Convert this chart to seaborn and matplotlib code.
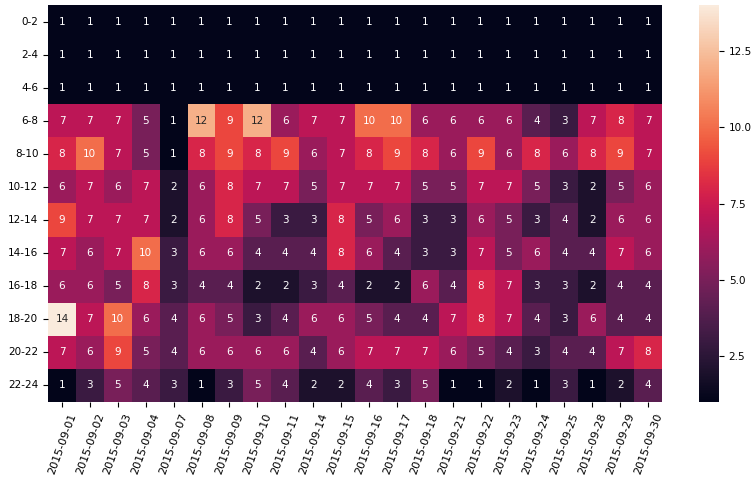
import numpy as np
import pandas as pd
import matplotlib
matplotlib.use("Agg")
import matplotlib.pyplot as plt
import seaborn as sns

dates = ["2015-09-01", "2015-09-02", "2015-09-03", "2015-09-04", "2015-09-07",
         "2015-09-08", "2015-09-09", "2015-09-10", "2015-09-11", "2015-09-14",
         "2015-09-15", "2015-09-16", "2015-09-17", "2015-09-18", "2015-09-21",
         "2015-09-22", "2015-09-23", "2015-09-24", "2015-09-25", "2015-09-28",
         "2015-09-29", "2015-09-30"]
hours = ["0-2", "2-4", "4-6", "6-8", "8-10", "10-12", "12-14", "14-16",
         "16-18", "18-20", "20-22", "22-24"]

r0_2 = [1] * 22
r2_4 = [1] * 22
r4_6 = [1] * 22
r6_8 = [7, 7, 7, 5, 1, 12, 9, 12, 6, 7, 7, 10, 10, 6, 6, 6, 6, 4, 3, 7, 8, 7]
r8_10 = [8, 10, 7, 5, 1, 8, 9, 8, 9, 6, 7, 8, 9, 8, 6, 9, 6, 8, 6, 8, 9, 7]
r10_12 = [6, 7, 6, 7, 2, 6, 8, 7, 7, 5, 7, 7, 7, 5, 5, 7, 7, 5, 3, 2, 5, 6]
r12_14 = [9, 7, 7, 7, 2, 6, 8, 5, 3, 3, 8, 5, 6, 3, 3, 6, 5, 3, 4, 2, 6, 6]
r14_16 = [7, 6, 7, 10, 3, 6, 6, 4, 4, 4, 8, 6, 4, 3, 3, 7, 5, 6, 4, 4, 7, 6]
r16_18 = [6, 6, 5, 8, 3, 4, 4, 2, 2, 3, 4, 2, 2, 6, 4, 8, 7, 3, 3, 2, 4, 4]
r18_20 = [14, 7, 10, 6, 4, 6, 5, 3, 4, 6, 6, 5, 4, 4, 7, 8, 7, 4, 3, 6, 4, 4]
r20_22 = [7, 6, 9, 5, 4, 6, 6, 6, 6, 4, 6, 7, 7, 7, 6, 5, 4, 3, 4, 4, 7, 8]
r22_24 = [1, 3, 5, 4, 3, 1, 3, 5, 4, 2, 2, 4, 3, 5, 1, 1, 2, 1, 3, 1, 2, 4]

cbar_ticks = [2.5, 5.0, 7.5, 10.0, 12.5]

rows = [r0_2, r2_4, r4_6, r6_8, r8_10, r10_12, r12_14, r14_16,
        r16_18, r18_20, r20_22, r22_24]
df = pd.DataFrame(rows, index=hours, columns=dates)

plt.rcParams["font.size"] = 7.5
plt.rcParams["xtick.labelsize"] = 8
plt.rcParams["ytick.labelsize"] = 7.5

DPI = 100
fig = plt.figure(figsize=(755 / DPI, 483 / DPI), dpi=DPI)
ax = fig.add_axes([48 / 755, 1 - 402 / 483, 614 / 755, 397 / 483])
cax = fig.add_axes([699 / 755, 1 - 402 / 483, 20 / 755, 397 / 483])
sns.heatmap(df, annot=True, fmt="d", ax=ax, cbar_ax=cax,
            annot_kws={"fontsize": 7.5},
            cbar_kws={"ticks": cbar_ticks})
ax.set_xticklabels(ax.get_xticklabels(), rotation=70)
ax.set_yticklabels(ax.get_yticklabels(), rotation=0)
cax.tick_params(labelsize=7.5)
fig.savefig("out.png", dpi=DPI)
